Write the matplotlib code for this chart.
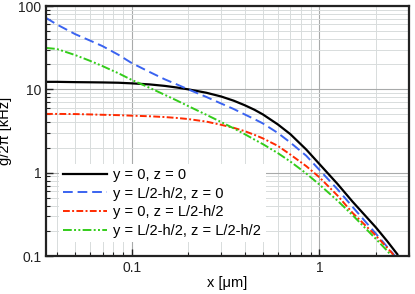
import matplotlib
matplotlib.use("Agg")
import matplotlib.pyplot as plt
import matplotlib.ticker as ticker

plt.rcParams['font.family'] = ['Liberation Sans', 'DejaVu Sans']

# positions along x [um]
x = [0.035, 0.04, 0.05, 0.06, 0.07, 0.085, 0.1, 0.125, 0.15, 0.175, 0.2, 0.25, 0.3,
     0.35, 0.4, 0.45, 0.5, 0.6, 0.7, 0.85, 1.0, 1.25, 1.5, 2.0, 2.3, 2.6]

# coupling g/2pi [kHz]
g_center = [12.3, 12.3, 12.2, 12.15, 12.1, 12.0, 11.8, 11.45, 11.0, 10.5, 10.0, 9.1, 8.2,
            7.3, 6.45, 5.7, 5.0, 3.8, 2.9, 1.9, 1.27, 0.73, 0.45, 0.22, 0.15, 0.105]
g_edge_y = [72, 60, 46, 38.5, 33, 26, 20.7, 16.1, 13.2, 11.4, 10.0, 8.1, 6.75,
            5.8, 5.0, 4.4, 3.9, 3.0, 2.3, 1.6, 1.08, 0.63, 0.39, 0.185, 0.128, 0.093]
g_edge_z = [5.07, 5.07, 5.05, 5.0, 4.95, 4.9, 4.83, 4.75, 4.65, 4.53, 4.4, 4.1, 3.75,
            3.45, 3.15, 2.85, 2.58, 2.1, 1.65, 1.2, 0.88, 0.53, 0.33, 0.175, 0.125, 0.092]
g_corner = [31.4, 30.5, 25.8, 22.0, 19.0, 15.6, 13.0, 10.4, 8.6, 7.3, 6.3, 4.95, 4.05,
            3.4, 2.9, 2.5, 2.2, 1.72, 1.36, 0.98, 0.72, 0.46, 0.31, 0.16, 0.115, 0.083]

labels = ['y = 0, z = 0', 'y = L/2-h/2, z = 0',
          'y = 0, z = L/2-h/2', 'y = L/2-h/2, z = L/2-h/2']


fig = plt.figure(figsize=(4.15, 2.94), dpi=100)
ax = fig.add_axes([46 / 415, 38 / 294, 363 / 415, 250 / 294])

ax.plot(x, g_center, color='black', lw=1.6, label=labels[0])
ax.plot(x, g_edge_y, color='#3a63f0', lw=1.4, dashes=(5, 2.5), label=labels[1])
ax.plot(x, g_edge_z, color='#ff2a00', lw=1.4, dashes=(3.5, 1.2, 1, 1.2), label=labels[2])
ax.plot(x, g_corner, color='#33cc1a', lw=1.4, dashes=(4.5, 1.2, 1, 1.2, 1, 1.2), label=labels[3])

ax.set_xscale('log')
ax.set_yscale('log')
ax.set_xlim(0.035, 3.0)
ax.set_ylim(0.1, 100)

fmt = ticker.FuncFormatter(lambda v, pos: '{:g}'.format(v))
ax.xaxis.set_major_formatter(fmt)
ax.yaxis.set_major_formatter(fmt)
ax.xaxis.set_minor_formatter(ticker.NullFormatter())
ax.yaxis.set_minor_formatter(ticker.NullFormatter())

ax.grid(True, which='major', color='#a8aaaa', lw=0.8)
ax.grid(True, which='minor', color='#d8dcdc', lw=0.7)
ax.set_axisbelow(True)

ax.tick_params(which='both', direction='in', labelsize=10, colors='#222222', top=False, right=False)
ax.tick_params(which='major', length=5, width=1)
ax.tick_params(which='minor', length=3, width=0.8)
for s in ax.spines.values():
    s.set_linewidth(1.6)
    s.set_color('#222222')

ax.set_xlabel('x [μm]', fontsize=10.5, labelpad=1)
ax.set_ylabel('g/2π [kHz]', fontsize=10.5, labelpad=4)

leg = ax.legend(loc='lower left', bbox_to_anchor=(0.035, 0.055), fontsize=10.5,
                handlelength=3.0, handletextpad=0.45, labelspacing=0.32,
                borderpad=0.3, borderaxespad=0, frameon=True, fancybox=False,
                framealpha=1, facecolor='white', edgecolor='none')

fig.savefig('out.png', dpi=100)
